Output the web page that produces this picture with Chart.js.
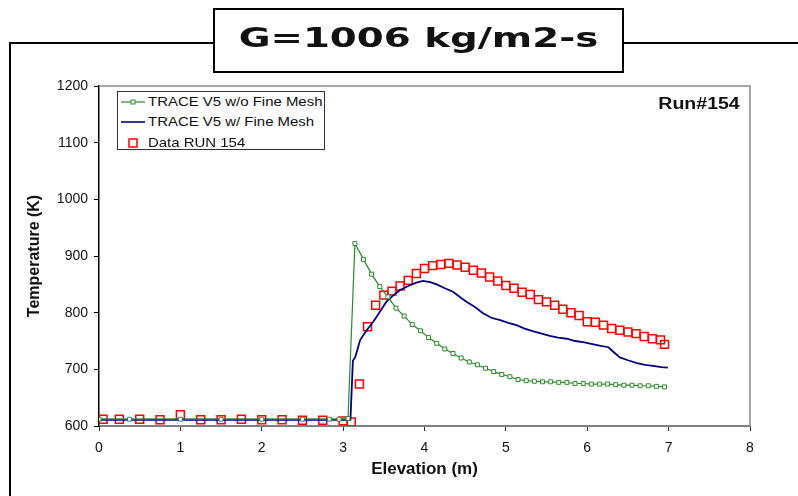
<!DOCTYPE html>
<html>
<head>
<meta charset="utf-8">
<script src="https://cdn.jsdelivr.net/npm/chart.js@4.4.1/dist/chart.umd.min.js"></script>
<style>
  body { margin: 0; background: #fff; }
  #wrap { position: relative; width: 798px; height: 496px; overflow: hidden; }
  #frame { position: absolute; left: 9px; top: 42px; width: 820px; height: 480px; border: 2px solid #000; }
  #box { position: absolute; left: 0; top: 0; width: 798px; height: 496px; }
  #title { position: absolute; left: 213px; top: 8px; width: 407px; height: 61px; border: 2px solid #000; background: #fff; }
  #title span { position: absolute; left: 0; width: 100%; top: 15px; text-align: center; font: bold 26px "DejaVu Sans"; line-height: 26px; color: #111; transform: scaleX(1.49); white-space: nowrap; }
  #run { position: absolute; right: 58px; top: 95px; font: bold 16px "Liberation Sans", Arial; line-height: 18px; transform: scaleX(1.22); transform-origin: right; color: #111; }
  #legend { position: absolute; left: 117px; top: 91px; width: 206px; height: 57px; border: 1px solid #333; background: #fff; }
  .row { position: absolute; left: 0; height: 18px; width: 100%; }
  .row svg { position: absolute; left: 3px; top: 0; }
  .row span { position: absolute; left: 30px; top: 1px; font: 13px "Liberation Sans", Arial; line-height: 16px; color: #111; transform: scaleX(1.15); transform-origin: left; white-space: nowrap; }
</style>
</head>
<body>
<div id="wrap">
  <div id="frame"></div>
  <div id="box"><canvas id="c"></canvas></div>
  <div id="title"><span>G=1006 kg/m2-s</span></div>
  <div id="run">Run#154</div>
  <div id="legend">
    <div class="row" style="top:1px"><svg width="24" height="18"><line x1="0" y1="9" x2="24" y2="9" stroke="#2a8a2a" stroke-width="1.2"/><rect x="10" y="7" width="4" height="4" fill="#fff" stroke="#2a8a2a" stroke-width="1"/></svg><span>TRACE V5 w/o Fine Mesh</span></div>
    <div class="row" style="top:21px"><svg width="24" height="18"><line x1="0" y1="9" x2="24" y2="9" stroke="#000080" stroke-width="1.6"/></svg><span>TRACE V5 w/ Fine Mesh</span></div>
    <div class="row" style="top:42px"><svg width="24" height="18"><rect x="8" y="5" width="8" height="8" fill="none" stroke="#ff0000" stroke-width="1.5"/></svg><span>Data RUN 154</span></div>
  </div>
</div>
<script>
  // TRACE V5 without fine mesh
  const coarseElev = [0, 0.375, 1.0, 1.5, 2.0, 2.5, 2.83, 2.95, 3.06,
    3.145, 3.25, 3.35, 3.45, 3.55, 3.65, 3.75, 3.85, 3.95, 4.05, 4.15, 4.25, 4.35, 4.45, 4.55, 4.65,
    4.75, 4.85, 4.95, 5.05, 5.15, 5.25, 5.35, 5.45, 5.55, 5.65, 5.75, 5.85, 5.95, 6.05, 6.15, 6.25,
    6.35, 6.45, 6.55, 6.65, 6.75, 6.85, 6.95];
  const coarseTemp = [612, 612, 612, 612, 612, 612, 612, 612, 613,
    922, 894, 868, 846, 828, 808, 794, 779, 768, 756, 746, 736, 728, 720, 713, 708,
    702, 696, 691, 687, 682, 680, 679, 678, 678, 677, 677, 675, 675, 674, 674, 674,
    673, 672, 672, 671, 671, 670, 669];

  // TRACE V5 with fine mesh
  const fineElev = [0, 0.5, 1.0, 1.5, 2.0, 2.5, 3.0, 3.09, 3.12, 3.15, 3.21, 3.29, 3.37, 3.45, 3.53,
    3.62, 3.70, 3.80, 3.90, 3.98, 4.07, 4.15, 4.25, 4.35, 4.46, 4.52, 4.62, 4.72, 4.82, 4.93, 5.03,
    5.13, 5.23, 5.34, 5.44, 5.54, 5.64, 5.75, 5.85, 5.95, 6.05, 6.15, 6.26, 6.32, 6.40, 6.50, 6.61,
    6.71, 6.81, 6.91, 6.99];
  const fineTemp = [611, 611, 611, 611, 611, 611, 611, 611, 715, 722, 752, 769, 784, 801, 819,
    831, 840, 847, 853, 856, 854, 850, 843, 837, 825, 819, 810, 799, 791, 787, 782,
    778, 772, 767, 763, 759, 756, 754, 750, 748, 745, 742, 739, 731, 721, 716, 711,
    708, 706, 704, 703];

  // measured data, run 154
  const runElev = [0.05, 0.25, 0.5, 0.75, 1.0, 1.25, 1.5, 1.75, 2.0, 2.25, 2.5, 2.75, 3.0, 3.1,
    3.2, 3.3, 3.4, 3.5, 3.6, 3.7, 3.8, 3.9, 4.0, 4.1, 4.2, 4.3, 4.4, 4.5, 4.6, 4.7, 4.8, 4.9,
    5.0, 5.1, 5.2, 5.3, 5.4, 5.5, 5.6, 5.7, 5.8, 5.9, 6.0, 6.1, 6.2, 6.3, 6.4, 6.5, 6.6, 6.7,
    6.8, 6.9, 6.95];
  const runTemp = [612, 612, 612, 611, 620, 611, 611, 612, 611, 611, 610, 610, 609, 607,
    674, 775, 813, 831, 838, 847, 857, 869, 878, 883, 885, 887, 884, 880, 875, 870, 863, 856,
    848, 843, 836, 832, 823, 819, 813, 806, 800, 795, 784, 783, 778, 772, 769, 766, 763, 758,
    754, 752, 744];

  const xTicks = [0, 1, 2, 3, 4, 5, 6, 7, 8];
  const yTicks = [600, 700, 800, 900, 1000, 1100, 1200];

  const pts = (xs, ys) => xs.map((x, i) => ({ x: x, y: ys[i] }));

  const plotFrame = {
    id: 'plotFrame',
    afterDraw(chart) {
      const a = chart.chartArea, ctx = chart.ctx;
      ctx.save();
      ctx.strokeStyle = '#8a8a8a';
      ctx.lineWidth = 1.5;
      ctx.beginPath();
      ctx.moveTo(a.left, a.top);
      ctx.lineTo(a.right, a.top);
      ctx.lineTo(a.right, a.bottom);
      ctx.stroke();
      ctx.restore();
    }
  };

  new Chart(document.getElementById('c'), {
    type: 'scatter',
    data: {
      datasets: [
        { label: 'TRACE V5 w/o Fine Mesh', data: pts(coarseElev, coarseTemp), showLine: true,
          borderColor: '#2a8a2a', borderWidth: 1.2, pointStyle: 'rect', pointRadius: 2.8,
          pointBorderColor: '#2a8a2a', pointBackgroundColor: '#fff', pointBorderWidth: 1 },
        { label: 'TRACE V5 w/ Fine Mesh', data: pts(fineElev, fineTemp), showLine: true,
          borderColor: '#000080', borderWidth: 1.8, pointRadius: 0 },
        { label: 'Data RUN 154', data: pts(runElev, runTemp), showLine: false,
          pointStyle: 'rect', pointRadius: 5.6, pointBorderColor: '#ff0000',
          pointBackgroundColor: 'rgba(0,0,0,0)', pointBorderWidth: 1.5 }
      ]
    },
    options: {
      responsive: true,
      maintainAspectRatio: false,
      animation: false,
      layout: { padding: { left: 20, top: 86, right: 48, bottom: 0 } },
      plugins: { legend: { display: false }, tooltip: { enabled: false } },
      scales: {
        x: {
          type: 'linear', min: 0, max: 8,
          afterBuildTicks: s => { s.ticks = xTicks.map(v => ({ value: v })); },
          afterFit: s => { s.height = 70; },
          border: { color: '#808080', width: 2 },
          grid: { drawOnChartArea: false, drawTicks: true, tickLength: 5, color: '#333' },
          ticks: { padding: 9, color: '#111', font: { family: 'Liberation Sans', size: 14 },
            callback: v => String(v) },
          title: { display: true, text: 'Elevation (m)', color: '#111', padding: { top: 0, bottom: 16 },
            font: { family: 'Liberation Sans', size: 17, weight: 'bold' } }
        },
        y: {
          type: 'linear', min: 600, max: 1200,
          afterBuildTicks: s => { s.ticks = yTicks.map(v => ({ value: v })); },
          afterFit: s => { s.width = 79; },
          border: { color: '#000', width: 1.5 },
          grid: { drawOnChartArea: false, drawTicks: true, tickLength: 5, color: '#000' },
          ticks: { padding: 6, color: '#111', font: { family: 'Liberation Sans', size: 14 },
            callback: v => String(v) },
          title: { display: true, text: 'Temperature (K)', color: '#111', padding: { top: 5, bottom: 0 },
            font: { family: 'Liberation Sans', size: 16, weight: 'bold' } }
        }
      }
    },
    plugins: [plotFrame]
  });
</script>
</body>
</html>
